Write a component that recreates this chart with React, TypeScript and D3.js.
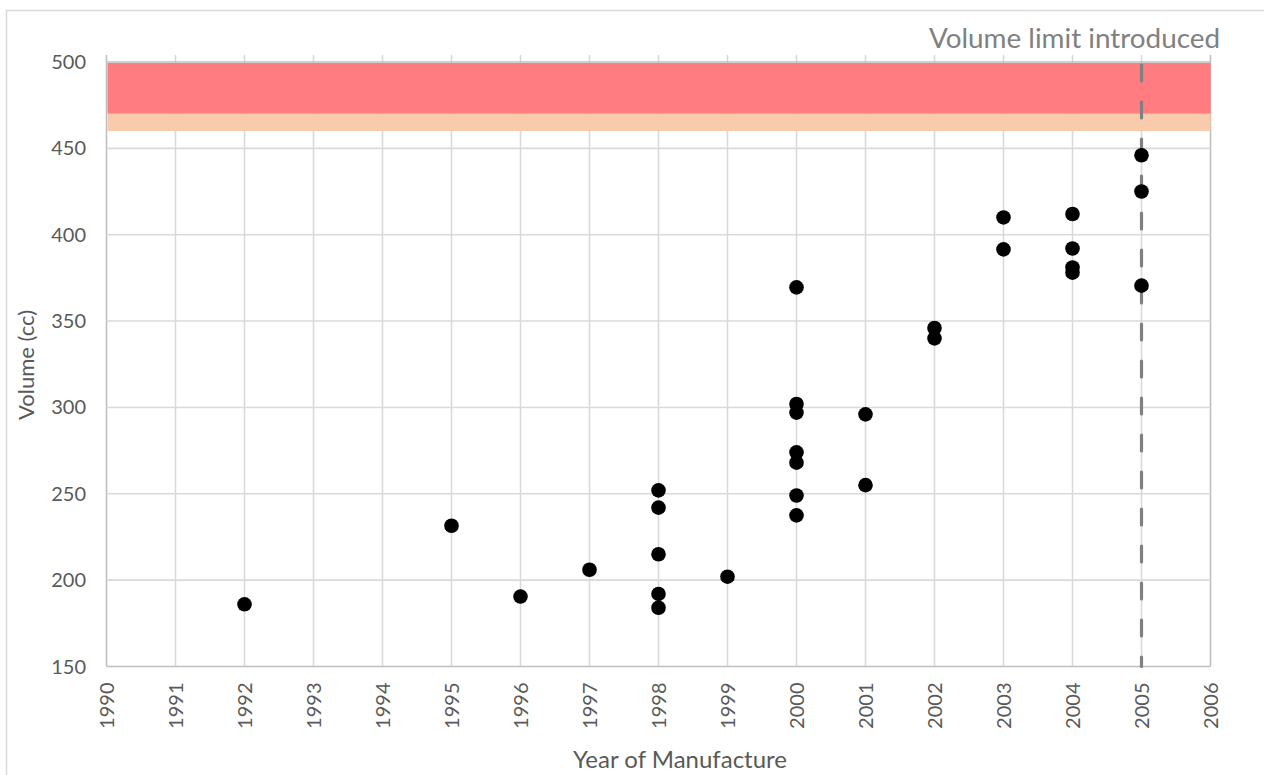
import React from "react";
import * as d3 from "d3";

const years = [1992, 1995, 1996, 1997, 1998, 1998, 1998, 1998, 1998, 1999, 2000, 2000, 2000, 2000, 2000, 2000, 2000, 2001, 2001, 2002, 2002, 2003, 2003, 2004, 2004, 2004, 2004, 2005, 2005, 2005];
const volumes = [186, 231.5, 190.5, 206, 252, 242, 215, 192, 184, 202, 369.5, 302, 297, 274, 268, 249, 237.5, 296, 255, 346, 340, 410, 391.5, 412, 392, 381, 378, 446, 425, 370.5];
const xTicks = d3.range(1990, 2007);
const yTicks = [150, 200, 250, 300, 350, 400, 450, 500];
const bandRed = [470, 500];
const bandPeach = [460, 470];
const limitYear = 2005;
const limitLabel = "Volume limit introduced";
const xTitle = "Year of Manufacture";
const yTitle = "Volume (cc)";

const FONT = "Lato, 'Open Sans', sans-serif";

export default function App() {
  const left = 106.5, right = 1210.5, top = 62, bottom = 666.5;
  const x = d3.scaleLinear().domain([1990, 2006]).range([left, right]);
  const y = d3.scaleLinear().domain([150, 500]).range([bottom, top]);
  const grid = "#d9d9d9";
  const axis = "#bfbfbf";
  const text = "#595959";
  return (
    <svg width={1264} height={775} style={{ position: "absolute", left: 0, top: 0 }}>
      <rect x={0} y={0} width={1264} height={775} fill="#fff" />
      <rect x={6.5} y={10.5} width={1300} height={800} fill="none" stroke="#d9d9d9" strokeWidth={1.5} />
      {xTicks.map((t) => (
        <line key={"vx" + t} x1={x(t)} x2={x(t)} y1={top - 7} y2={bottom} stroke={t === 1990 || t === 2006 ? axis : grid} strokeWidth={1.6} />
      ))}
      {yTicks.map((t) => (
        <line key={"hy" + t} x1={left} x2={right} y1={y(t)} y2={y(t)} stroke={t === 150 || t === 500 ? axis : grid} strokeWidth={1.6} />
      ))}
      <rect x={left + 1} y={y(bandRed[1]) + 1} width={right - left - 1} height={y(bandRed[0]) - y(bandRed[1]) - 1} fill="#ff7c80" />
      <rect x={left + 1} y={y(bandPeach[1])} width={right - left - 1} height={y(bandPeach[0]) - y(bandPeach[1])} fill="#f8cbad" />
      <line x1={x(limitYear)} x2={x(limitYear)} y1={top + 3} y2={bottom} stroke="#808080" strokeWidth={3.2} strokeDasharray="16 21" strokeLinecap="round" />
      {years.map((yr, i) => (
        <circle key={"p" + i} cx={x(yr)} cy={y(volumes[i])} r={7.3} fill="#000" />
      ))}
      {yTicks.map((t) => (
        <text key={"yl" + t} x={86} y={y(t)} dy="0.35em" textAnchor="end" fontFamily={FONT} fontSize={20} fill={text}>{t}</text>
      ))}
      {xTicks.map((t) => (
        <text key={"xl" + t} transform={`translate(${x(t)},${bottom + 16}) rotate(-90)`} dy="0.35em" textAnchor="end" fontFamily={FONT} fontSize={20} fill={text}>{t}</text>
      ))}
      <text x={680} y={768} textAnchor="middle" fontFamily={FONT} fontSize={24} fill={text}>{xTitle}</text>
      <text transform={`translate(34,365) rotate(-90)`} textAnchor="middle" fontFamily={FONT} fontSize={22} fill={text}>{yTitle}</text>
      <text x={1220} y={48} textAnchor="end" fontFamily={FONT} fontSize={27} fill="#808080" textLength={291} lengthAdjust="spacingAndGlyphs">{limitLabel}</text>
    </svg>
  );
}
